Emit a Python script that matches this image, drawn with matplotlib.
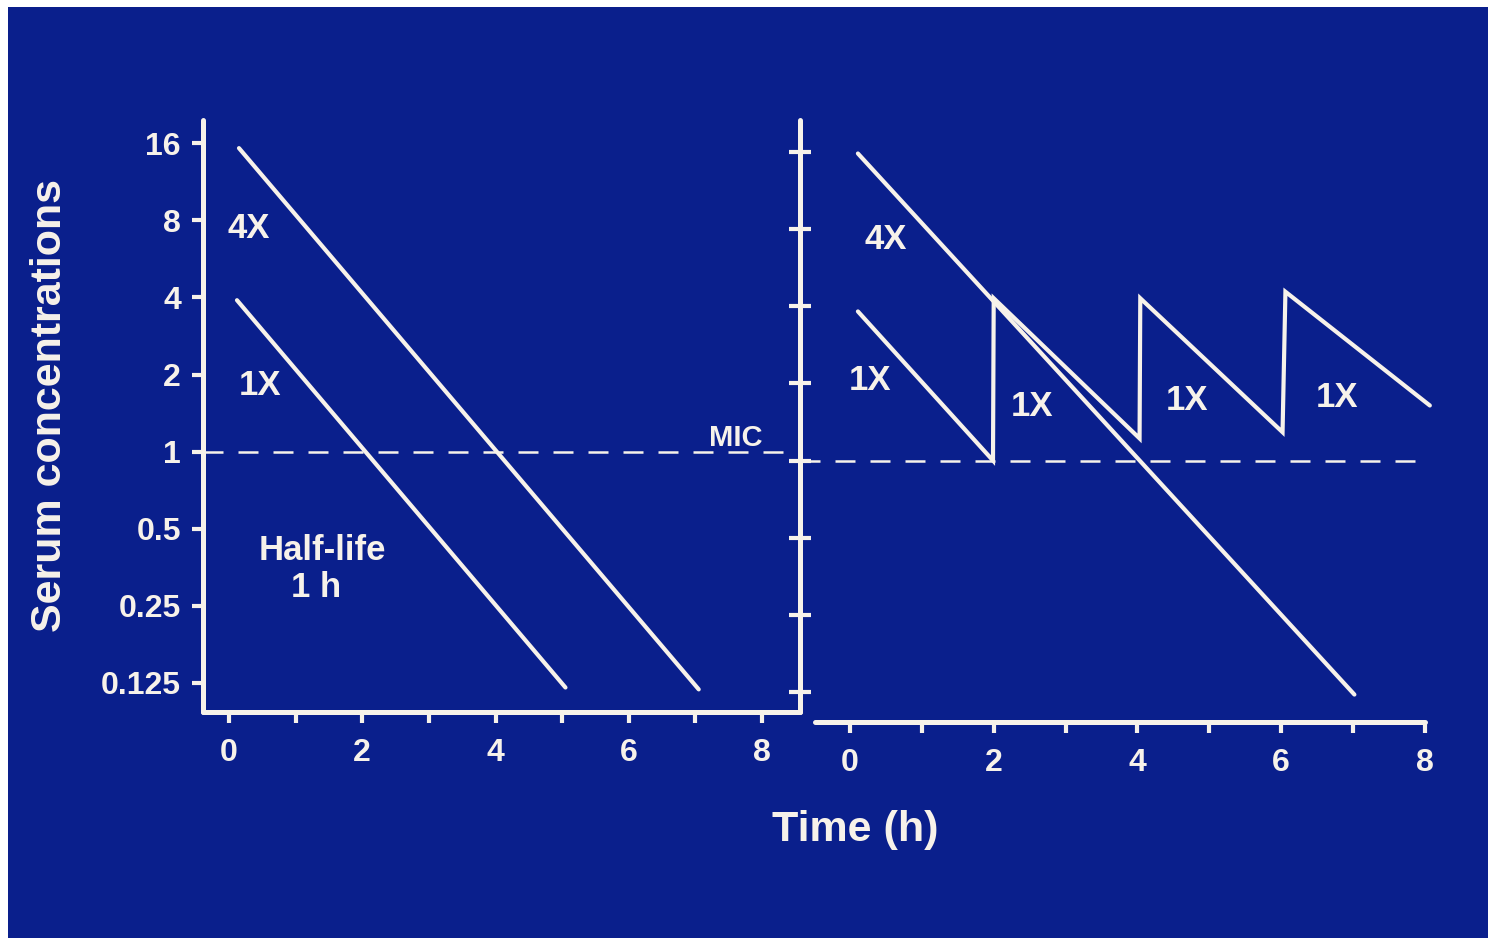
import matplotlib
matplotlib.use("Agg")
import matplotlib.pyplot as plt
from matplotlib.patches import Rectangle

# values (time in h, concentration in multiples of MIC)
y_ticks = [16, 8, 4, 2, 1, 0.5, 0.25, 0.125]
y_tick_labels = ["16", "8", "4", "2", "1", "0.5", "0.25", "0.125"]
x_ticks = [0, 2, 4, 6, 8]
x_minor = [1, 3, 5, 7]
mic = 1.0

left_4x_t = [0.15, 7.05]
left_4x_c = [15.3, 0.118]
left_1x_t = [0.12, 5.05]
left_1x_c = [3.9, 0.12]

right_4x_t = [0.11, 7.02]
right_4x_c = [15.8, 0.122]
right_1x_t = [0.11, 1.99, 2.0, 4.03, 4.04, 6.02, 6.06, 8.07]
right_1x_c = [3.82, 1.0, 4.3, 1.22, 4.3, 1.29, 4.56, 1.64]

bg = "#0a1f8c"
fg = "#f7f2ea"
W, H = 1488, 938

plt.rcParams['font.family'] = ['Liberation Sans', 'DejaVu Sans']
plt.rcParams['font.weight'] = 'bold'

fig = plt.figure(figsize=(W / 100, H / 100), dpi=100, facecolor="white")
# slide background (photo has a thin white margin top/left)
fig.patches.append(Rectangle((8 / W, 0), 1, 1 - 7 / H, transform=fig.transFigure,
                             facecolor=bg, edgecolor="none", zorder=-5))


def px_box(x0, y0, x1, y1):
    return [x0 / W, 1 - y1 / H, (x1 - x0) / W, (y1 - y0) / H]


def style_axes(ax):
    ax.set_facecolor("none")
    ax.set_yscale("log", base=2)
    for side in ["top", "right"]:
        ax.spines[side].set_visible(False)
    for side in ["left", "bottom"]:
        ax.spines[side].set_color(fg)
        ax.spines[side].set_linewidth(3.6)
        ax.spines[side].set_capstyle("round")
    ax.set_yticks(y_ticks)
    ax.yaxis.set_minor_locator(matplotlib.ticker.NullLocator())
    ax.set_xticks(x_ticks)
    ax.set_xticks(x_minor, minor=True)
    ax.tick_params(colors=fg, width=3, length=8, labelsize=23)
    ax.tick_params(axis="x", which="minor", width=3, length=8, color=fg)


# left panel
ax1 = fig.add_axes(px_box(203, 120, 800, 712))
style_axes(ax1)
ax1.set_xlim(-0.39, 8.57)
ax1.set_ylim(0.0963, 19.7)
ax1.set_yticklabels(y_tick_labels)
ax1.tick_params(axis="y", pad=8)
ax1.tick_params(axis="x", pad=11)
ax1.plot(left_4x_t, left_4x_c, color=fg, lw=3, solid_capstyle="round")
ax1.plot(left_1x_t, left_1x_c, color=fg, lw=3, solid_capstyle="round")
ax1.plot([-0.39, 8.57], [mic, mic], color=fg, lw=1.8, dashes=(8, 6))
ax1.text(0.29, 7.45, "4X", color=fg, fontsize=25, ha="center", va="center")
ax1.text(0.47, 1.81, "1X", color=fg, fontsize=25, ha="center", va="center")
ax1.text(1.40, 0.41, "Half-life", color=fg, fontsize=25, ha="center", va="center")
ax1.text(1.31, 0.294, "1 h", color=fg, fontsize=25, ha="center", va="center")
ax1.text(7.6, 1.13, "MIC", color=fg, fontsize=21, ha="center", va="center")

# right panel
ax2 = fig.add_axes(px_box(800, 120, 1432, 712))
style_axes(ax2)
ax2.set_xlim(-0.696, 8.1)
ax2.set_ylim(0.1043, 21.35)
ax2.set_yticklabels([])
ax2.tick_params(axis="y", direction="inout", length=16)
ax2.tick_params(axis="x", pad=11)
ax2.spines["bottom"].set_position(("outward", 7))
ax2.spines["bottom"].set_bounds(-0.49, 8)
ax2.plot(right_4x_t, right_4x_c, color=fg, lw=3, solid_capstyle="round")
ax2.plot(right_1x_t, right_1x_c, color=fg, lw=3, solid_capstyle="round",
         solid_joinstyle="miter")
ax2.plot([-0.696, 7.86], [mic, mic], color=fg, lw=1.8, dashes=(8, 6))
ax2.text(0.49, 7.27, "4X", color=fg, fontsize=25, ha="center", va="center")
ax2.text(0.28, 2.06, "1X", color=fg, fontsize=25, ha="center", va="center")
ax2.text(2.53, 1.62, "1X", color=fg, fontsize=25, ha="center", va="center")
ax2.text(4.69, 1.72, "1X", color=fg, fontsize=25, ha="center", va="center")
ax2.text(6.78, 1.77, "1X", color=fg, fontsize=25, ha="center", va="center")

fig.text(50 / W, 1 - 405 / H, "Serum concentrations", rotation=90, color=fg,
         fontsize=31, ha="center", va="center")
fig.text(855 / W, 1 - 830 / H, "Time (h)", color=fg, fontsize=31,
         ha="center", va="center")

fig.savefig("out.png", dpi=100, facecolor="white")
